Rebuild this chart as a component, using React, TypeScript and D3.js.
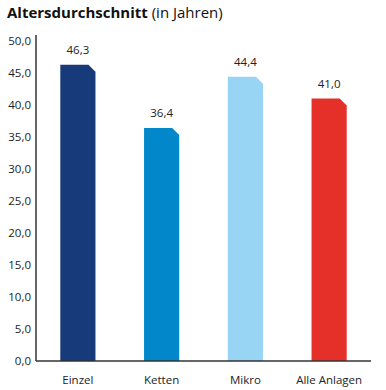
import React from "react";
import * as d3 from "d3";

const categories = ["Einzel", "Ketten", "Mikro", "Alle Anlagen"];
const values = [46.3, 36.4, 44.4, 41.0];
const colors = ["#173b7a", "#0287cb", "#98d4f3", "#e5302a"];
const yTicks = [0, 5, 10, 15, 20, 25, 30, 35, 40, 45, 50];

const W = 386, H = 390;
const left = 36, right = 371, top = 41, bottom = 361;
const font = "'Open Sans', 'Noto Sans', sans-serif";
const fmt = (v: number) => v.toFixed(1).replace(".", ",");

export default function App() {
  const x = d3.scaleBand<string>().domain(categories).range([left, right]).paddingInner(0.58).paddingOuter(0.29);
  const y = d3.scaleLinear().domain([0, 50]).range([bottom, top]);
  const c = 7;
  return (
    <svg width={W} height={H} style={{ position: "absolute", left: 0, top: 0 }}>
      <text x={7} y={18} fontFamily={font} fontSize={15} fill="#111">
        <tspan fontWeight="bold">Altersdurchschnitt</tspan>
        <tspan> (in Jahren)</tspan>
      </text>
      {yTicks.map((t) => (
        <text key={t} x={31} y={y(t) + 4} textAnchor="end" fontFamily={font} fontSize={11.5} fill="#222">
          {fmt(t)}
        </text>
      ))}
      {categories.map((cat, i) => {
        const x0 = x(cat)!;
        const x1 = x0 + x.bandwidth();
        const yt = y(values[i]);
        const path = `M${x0},${bottom}L${x0},${yt}L${x1 - c},${yt}L${x1},${yt + c}L${x1},${bottom}Z`;
        return (
          <g key={cat}>
            <path d={path} fill={colors[i]} />
            <text x={x0 + x.bandwidth() / 2} y={yt - 11} textAnchor="middle" fontFamily={font} fontSize={11.5} fill="#222">
              {fmt(values[i])}
            </text>
            <text x={x0 + x.bandwidth() / 2} y={384} textAnchor="middle" fontFamily={font} fontSize={11.5} fill="#222">
              {cat}
            </text>
          </g>
        );
      })}
      <line x1={left} x2={left} y1={35} y2={bottom} stroke="#333" strokeWidth={1.5} />
      <line x1={left} x2={right} y1={bottom} y2={bottom} stroke="#333" strokeWidth={1.5} />
    </svg>
  );
}
